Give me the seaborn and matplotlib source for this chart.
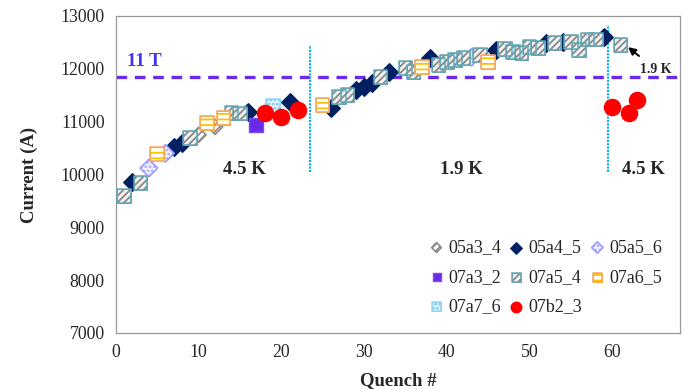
import matplotlib
matplotlib.use("Agg")
import matplotlib.pyplot as plt
from matplotlib.legend_handler import HandlerTuple
import seaborn as sns

# Quench history: quench number vs. quench current (A), one list pair per magnet
q_05a3_4 = [10, 12]
i_05a3_4 = [10750, 10900]

q_05a4_5 = [2, 7, 8, 16, 21, 26, 29, 30, 31, 33, 38, 46, 52, 54, 59]
i_05a4_5 = [9850, 10520, 10600, 11180, 11370, 11260, 11600, 11660, 11730,
            11940, 12200, 12350, 12490, 12510, 12600]

q_05a5_6 = [4, 6, 43]
i_05a5_6 = [10120, 10400, 12220]

q_07a3_2 = [17]
i_07a3_2 = [10935]

q_07a5_4 = [1, 3, 9, 14, 15, 27, 28, 32, 35, 36, 39, 40, 41, 42, 44, 47, 48,
            49, 50, 51, 53, 55, 56, 57, 58, 61]
i_07a5_4 = [9590, 9840, 10690, 11160, 11150, 11470, 11500, 11845, 12015,
            11940, 12070, 12130, 12170, 12200, 12260, 12370, 12320, 12300,
            12410, 12390, 12490, 12510, 12360, 12550, 12550, 12450]

q_07a6_5 = [5, 11, 13, 25, 37, 45]
i_07a6_5 = [10386, 10970, 11070, 11310, 12035, 12130]

q_07a7_6 = [19]
i_07a7_6 = [11300]

q_07b2_3 = [18, 20, 22, 60, 62, 63]
i_07b2_3 = [11160, 11080, 11220, 11280, 11160, 11410]

short_sample_limit = 11850      # 11 T load line
temperature_breaks = [23.5, 59.5]
x_ticks = [0, 10, 20, 30, 40, 50, 60]
y_ticks = [7000, 8000, 9000, 10000, 11000, 12000, 13000]

sns.set_style("white")
plt.rcParams["font.family"] = ["Liberation Serif", "DejaVu Serif"]
plt.rcParams["hatch.linewidth"] = 1.3

fig = plt.figure(figsize=(6.85, 3.89), dpi=100)
ax = fig.add_axes([0.169, 0.144, 0.824, 0.815])

series = [
    # label, x, y, marker, size, face, outline, hatch, hatch colour
    ("05a3_4", q_05a3_4, i_05a3_4, "D", 60, "white", "#8c8c8c", "/////", "#8c8c8c"),
    ("05a4_5", q_05a4_5, i_05a4_5, "D", 80, "#002060", "#002060", None, None),
    ("05a5_6", q_05a5_6, i_05a5_6, "D", 80, "#f0f0ff", "#9999ff", "....", "#a8a8ff"),
    ("07a3_2", q_07a3_2, i_07a3_2, "s", 95, "#6a2be8", "#7a4cf0", None, None),
    ("07a5_4", q_07a5_4, i_07a5_4, "s", 95, "#f2f2f2", "#5fa9b8", "/////", "#888888"),
    ("07a6_5", q_07a6_5, i_07a6_5, "s", 95, "white", "#f4a460", "---", "#ffc000"),
    ("07a7_6", q_07a7_6, i_07a7_6, "s", 95, "#e6f6ff", "#9ad3f5", "....", "#66c8f2"),
    ("07b2_3", q_07b2_3, i_07b2_3, "o", 135, "#ff0000", "#ff0000", None, None),
]

handles = {}
for label, xs, ys, mk, size, face, edge, hatch, hcol in series:
    if hatch:
        # patterned fill first (hatch takes the edge colour), outline on top
        sns.scatterplot(x=xs, y=ys, ax=ax, marker=mk, s=size, color=face,
                        edgecolor=hcol, linewidth=0.6, hatch=hatch,
                        legend=False, zorder=3)
        fill = ax.collections[-1]
        sns.scatterplot(x=xs, y=ys, ax=ax, marker=mk, s=size, facecolor="none",
                        edgecolor=edge, linewidth=1.1, legend=False, zorder=3)
        handles[label] = (fill, ax.collections[-1])
    else:
        sns.scatterplot(x=xs, y=ys, ax=ax, marker=mk, s=size, color=face,
                        edgecolor=edge, linewidth=1.0, legend=False, zorder=3)
        handles[label] = ax.collections[-1]

# 11 T line and temperature change markers
ax.axhline(short_sample_limit, color="#6a2be8", lw=2.4, ls=(0, (3.2, 2.3)), zorder=2)
ax.vlines(temperature_breaks[0], 10050, 12450, color="#00b0f0", lw=1.5,
          ls=(0, (1, 0.6)), zorder=2)
ax.vlines(temperature_breaks[1], 10050, 12830, color="#00b0f0", lw=1.5,
          ls=(0, (1, 0.6)), zorder=2)

ax.text(1.4, 12140, "11 T", color="#4433ee", fontsize=13.5, fontweight="bold",
        ha="left", va="center")
ax.text(15.6, 10100, "4.5 K", fontsize=13.5, fontweight="bold", ha="center", va="center")
ax.text(41.7, 10100, "1.9 K", fontsize=13.5, fontweight="bold", ha="center", va="center")
ax.text(63.8, 10100, "4.5 K", fontsize=13.5, fontweight="bold", ha="center", va="center")
ax.annotate("1.9 K", xy=(61.9, 12410), xytext=(65.2, 11990), fontsize=10,
            fontweight="bold", ha="center", va="center",
            arrowprops=dict(arrowstyle="-|>", color="black", lw=1.4,
                            shrinkA=4, shrinkB=0, mutation_scale=11))

ax.set_xlim(0, 68.2)
ax.set_ylim(7000, 13000)
ax.set_xticks(x_ticks)
ax.set_yticks(y_ticks)
ax.tick_params(axis="both", labelsize=12.8, direction="out", length=4,
               width=0.8, color="#888888", pad=4)
for s in ax.spines.values():
    s.set_color("#999999")
    s.set_linewidth(0.9)

ax.set_xlabel("Quench #", fontsize=13.5, fontweight="bold", labelpad=8)
ax.set_ylabel("Current (A)", fontsize=13.5, fontweight="bold", labelpad=16)

order = ["05a3_4", "07a3_2", "07a7_6", "05a4_5", "07a5_4", "07b2_3", "05a5_6", "07a6_5"]
ax.legend([handles[k] for k in order], order, ncol=3, loc="lower right",
          bbox_to_anchor=(0.99, 0.015), frameon=False, fontsize=13,
          markerscale=0.65, handlelength=0.7, handletextpad=0.3,
          columnspacing=0.5, labelspacing=0.7, borderpad=0.2,
          handler_map={tuple: HandlerTuple(ndivide=1, pad=0)})

fig.savefig("out.png", dpi=100)
